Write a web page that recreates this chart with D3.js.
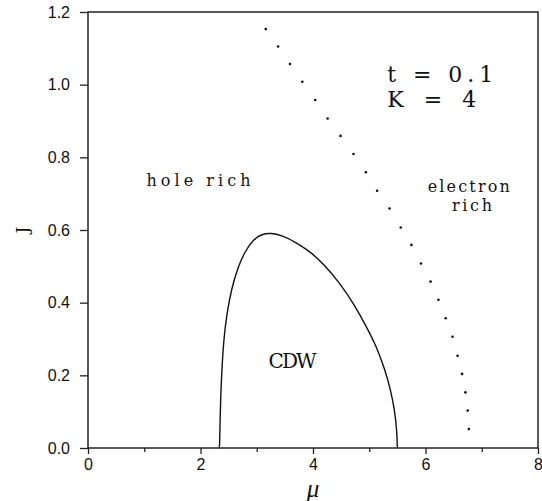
<!DOCTYPE html>
<html>
<head>
<meta charset="utf-8">
<script src="https://cdn.jsdelivr.net/npm/d3@7"></script>
<style>
	body { margin: 0; background: #fff; }
	svg text { fill: #111; }
	.tick text { font-family: "Liberation Sans", Arial, sans-serif; font-size: 16px; }
	.tick line { stroke: #222; stroke-width: 1.3; }
	.note { font-family: "DejaVu Serif", serif; }
</style>
</head>
<body>
<script>
/* Data */

// dotted boundary (mu, J)
var BOUNDARY_MU = [6.77, 6.75, 6.71, 6.65, 6.57, 6.48, 6.36, 6.23, 6.09, 5.92, 5.75, 5.56,
                   5.36, 5.14, 4.94, 4.72, 4.49, 4.26, 4.04, 3.81, 3.59, 3.38, 3.16];
var BOUNDARY_J  = [0.052, 0.103, 0.153, 0.204, 0.254, 0.306, 0.357, 0.408, 0.458, 0.508, 0.559, 0.607,
                   0.659, 0.708, 0.759, 0.809, 0.859, 0.907, 0.958, 1.008, 1.057, 1.105, 1.153];

// CDW dome (mu, J)
var CDW_MU = [2.33, 2.34, 2.35, 2.37, 2.41, 2.47, 2.55, 2.67, 2.79, 2.94, 3.09, 3.25, 3.45, 3.70,
              3.95, 4.18, 4.48, 4.72, 4.95, 5.13, 5.28, 5.38, 5.45, 5.49, 5.50, 5.50];
var CDW_J  = [0.0, 0.0, 0.096, 0.187, 0.297, 0.371, 0.438, 0.499, 0.541, 0.574, 0.589, 0.592, 0.585, 0.566,
              0.540, 0.508, 0.453, 0.398, 0.334, 0.279, 0.215, 0.160, 0.105, 0.050, 0.0, 0.0];

var X_MAJOR = [0, 2, 4, 6, 8],
    X_MINOR = [1, 3, 5, 7],
    Y_TICKS = [0, 0.2, 0.4, 0.6, 0.8, 1.0, 1.2];

var LABELS = [
	{text: "hole rich", mu: 1.04, j: 0.721, size: 16, len: 104},
	{text: "electron",  mu: 6.04, j: 0.704, size: 16, len: 82},
	{text: "rich",      mu: 6.47, j: 0.653, size: 16, len: 40},
	{text: "CDW",       mu: 3.21, j: 0.219, size: 20, len: 48},
	{text: "t = 0.1",   mu: 5.32, j: 1.008, size: 22, len: 106},
	{text: "K = 4",     mu: 5.32, j: 0.938, size: 22, len: 89}
];

/* Measures */

var W = 542,
    H = 501;

var MARGIN = {left: 88, top: 12, right: 4, bottom: 53};

var svg = d3.select("body").append("svg")
	.attr("width", W)
	.attr("height", H);

var x = d3.scaleLinear().domain([0, 8]).range([MARGIN.left, W - MARGIN.right]);
var y = d3.scaleLinear().domain([0, 1.2]).range([H - MARGIN.bottom, MARGIN.top]);

// frame
svg.append("rect")
	.attr("x", x(0))
	.attr("y", y(1.2))
	.attr("width", x(8) - x(0))
	.attr("height", y(0) - y(1.2))
	.attr("fill", "none")
	.attr("stroke", "#222")
	.attr("stroke-width", 1.5);

// axes
svg.append("g")
	.attr("transform", "translate(0," + y(0) + ")")
	.call(d3.axisBottom(x).tickValues(X_MAJOR).tickSize(6).tickPadding(5).tickFormat(d3.format("d")))
	.call(function(g) { g.select(".domain").remove(); });

svg.append("g")
	.attr("transform", "translate(0," + y(0) + ")")
	.call(d3.axisBottom(x).tickValues(X_MINOR).tickSize(4).tickFormat(""))
	.call(function(g) { g.select(".domain").remove(); });

svg.append("g")
	.attr("transform", "translate(" + x(0) + ",0)")
	.call(d3.axisLeft(y).tickValues(Y_TICKS).tickSize(8).tickPadding(10).tickFormat(d3.format(".1f")))
	.call(function(g) { g.select(".domain").remove(); });

// CDW dome
var cdw = CDW_MU.map(function(m, i) { return [m, CDW_J[i]]; });
svg.append("path")
	.datum(cdw)
	.attr("fill", "none")
	.attr("stroke", "#111")
	.attr("stroke-width", 1.4)
	.attr("d", d3.line()
		.x(function(d) { return x(d[0]); })
		.y(function(d) { return y(d[1]); })
		.curve(d3.curveBasis));

// dotted boundary
svg.append("g").selectAll("circle")
	.data(BOUNDARY_MU.map(function(m, i) { return [m, BOUNDARY_J[i]]; }))
	.enter().append("circle")
	.attr("cx", function(d) { return x(d[0]); })
	.attr("cy", function(d) { return y(d[1]); })
	.attr("r", 1.3)
	.attr("fill", "#111");

// region labels
svg.append("g").selectAll("text")
	.data(LABELS)
	.enter().append("text")
	.classed("note", true)
	.attr("x", function(d) { return x(d.mu); })
	.attr("y", function(d) { return y(d.j); })
	.attr("font-size", function(d) { return d.size + "px"; })
	.attr("textLength", function(d) { return d.len; })
	.attr("lengthAdjust", "spacing")
	.text(function(d) { return d.text; });

// axis titles
svg.append("text")
	.attr("x", x(4))
	.attr("y", 497)
	.attr("text-anchor", "middle")
	.attr("font-family", "Liberation Serif, serif")
	.attr("font-style", "italic")
	.attr("font-size", "25px")
	.text("\u03bc");

svg.append("text")
	.attr("transform", "translate(28," + y(0.6) + ") rotate(-90)")
	.attr("text-anchor", "middle")
	.attr("font-family", "DejaVu Serif, serif")
	.attr("font-size", "16px")
	.text("J");
</script>
</body>
</html>
